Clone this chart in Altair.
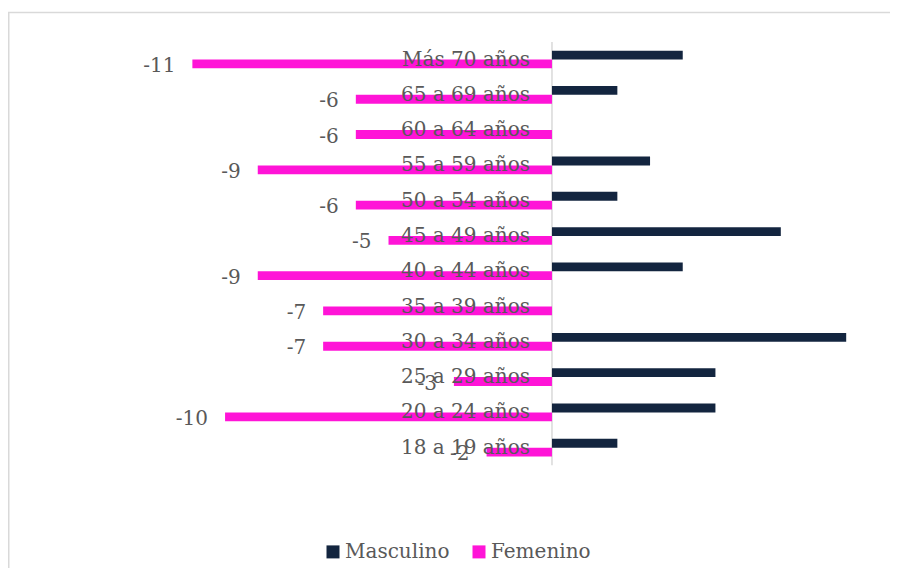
import altair as alt
import pandas as pd

categorias = ["Más 70 años", "65 a 69 años", "60 a 64 años", "55 a 59 años",
              "50 a 54 años", "45 a 49 años", "40 a 44 años", "35 a 39 años",
              "30 a 34 años", "25 a 29 años", "20 a 24 años", "18 a 19 años"]
masculino = [4, 2, 0, 3, 2, 7, 4, 0, 9, 5, 5, 2]
femenino = [-11, -6, -6, -9, -6, -5, -9, -7, -7, -3, -10, -2]
series = ["Masculino", "Femenino"]
colores = ["#13253F", "#FF14D7"]

rows = []
dominio = []
for i, (c, m, f) in enumerate(zip(categorias, masculino, femenino)):
    rows.append({"categoria": c, "sexo": "Masculino", "valor": m, "etiqueta": str(m),
                 "fila": c + "|Masculino"})
    rows.append({"categoria": c, "sexo": "Femenino", "valor": f, "etiqueta": str(f),
                 "fila": c + "|Femenino"})
    dominio += ["_a%d" % i, c + "|Masculino", c + "|Femenino", "_b%d" % i]
df = pd.DataFrame(rows)
df_cat = pd.DataFrame({"categoria": categorias,
                       "fila": [c + "|Masculino" for c in categorias],
                       "cero": [0] * len(categorias)})
df_one = pd.DataFrame({"cero": [0]})

FONT = "DejaVu Serif"
GRAY = "#595959"
H = 423.4
SUB = H / len(dominio)

xscale = alt.Scale(domain=[-16.64, 10.34], nice=False, zero=True)
yscale = alt.Scale(domain=dominio, paddingInner=0, paddingOuter=0)

border_top = alt.Chart(df_one).mark_rule(color="#d9d9d9", strokeWidth=1.5).encode(
    x=alt.value(0), x2=alt.value(882), y=alt.value(-29.4))
border_left = alt.Chart(df_one).mark_rule(color="#d9d9d9", strokeWidth=1.5).encode(
    x=alt.value(0.75), y=alt.value(-29.4), y2=alt.value(526))
axis_rule = alt.Chart(df_one).mark_rule(color="#d9d9d9", strokeWidth=1.5).encode(
    x=alt.X("cero:Q", scale=xscale, axis=None), y=alt.value(0), y2=alt.value(H))

bars = alt.Chart(df).mark_bar().encode(
    x=alt.X("valor:Q", scale=xscale, axis=None),
    y=alt.Y("fila:N", scale=yscale, axis=None),
    color=alt.Color("sexo:N", scale=alt.Scale(domain=series, range=colores),
                    legend=alt.Legend(title=None, orient="none", legendX=315, legendY=500,
                                      direction="horizontal", symbolType="square",
                                      symbolSize=169, symbolStrokeWidth=0,
                                      labelFont=FONT, labelFontSize=20, labelColor=GRAY,
                                      labelOffset=2, columnPadding=19)),
)

labels = alt.Chart(df).transform_filter(alt.datum.sexo == "Femenino").mark_text(
    align="right", baseline="middle", dx=-17, dy=2, font=FONT, fontSize=20, color=GRAY
).encode(
    x=alt.X("valor:Q", scale=xscale, axis=None),
    y=alt.Y("fila:N", scale=yscale, axis=None),
    text="etiqueta:N",
)

cats = alt.Chart(df_cat).mark_text(
    align="right", baseline="middle", dx=-22, dy=SUB / 2, font=FONT, fontSize=20, color=GRAY
).encode(
    x=alt.X("cero:Q", scale=xscale, axis=None),
    y=alt.Y("fila:N", scale=yscale, axis=None),
    text="categoria:N",
)

chart = alt.layer(border_top, border_left, axis_rule, bars, labels, cats).properties(
    width=882, height=H,
    padding={"left": 0, "top": 33.9, "right": 0, "bottom": 102.7},
    autosize=alt.AutoSizeParams(type="none"),
).configure_view(strokeWidth=0)

chart.save("out.html", embed_options={"renderer": "svg", "actions": False})
